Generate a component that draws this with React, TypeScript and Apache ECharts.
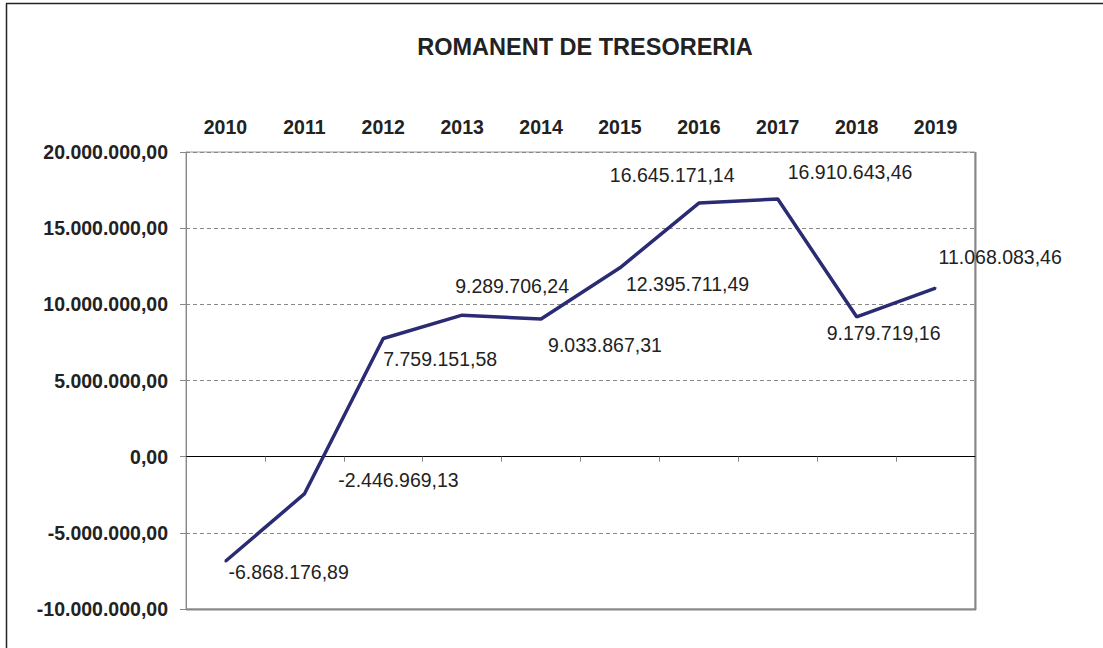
import React, { useEffect, useRef } from "react";
import * as echarts from "echarts";

const title = "ROMANENT DE TRESORERIA";
const years = ["2010", "2011", "2012", "2013", "2014", "2015", "2016", "2017", "2018", "2019"];
const values = [
  -6868176.89, -2446969.13, 7759151.58, 9289706.24, 9033867.31,
  12395711.49, 16645171.14, 16910643.46, 9179719.16, 11068083.46,
];
// label offsets (left edge, vertical centre) relative to each point
const labelDx = [3, 34, 0, -7, 7, 6, -89, 10, -30, 3];
const labelDy = [11, -14, 21, -29, 26, 16, -28, -27, 16, -31];

function fmt(v: number): string {
  const neg = v < 0;
  const a = Math.abs(v);
  const [ip, dp] = a.toFixed(2).split(".");
  const withDots = ip.replace(/\B(?=(\d{3})+(?!\d))/g, ".");
  return (neg ? "-" : "") + withDots + "," + dp;
}

export default function App() {
  const ref = useRef<HTMLDivElement>(null);
  useEffect(() => {
    if (!ref.current) return;
    const chart = echarts.init(ref.current, undefined, { renderer: "svg" });
    const font = "Liberation Sans, Arial, sans-serif";
    chart.setOption({
      animation: false,
      backgroundColor: "#ffffff",
      textStyle: { fontFamily: font },
      title: {
        text: title,
        left: 580,
        top: 30,
        textAlign: "center",
        textStyle: { fontSize: 23.5, fontWeight: "bold", color: "#222", fontFamily: font },
      },
      graphic: [
        { type: "line", shape: { x1: 6.5, y1: 3.5, x2: 6.5, y2: 660 }, style: { stroke: "#222", lineWidth: 1.5 } },
        { type: "line", shape: { x1: 6, y1: 3.5, x2: 1110, y2: 3.5 }, style: { stroke: "#222", lineWidth: 1.5 } },
        { type: "line", shape: { x1: 975.5, y1: 152, x2: 975.5, y2: 610 }, style: { stroke: "#888", lineWidth: 2 } },
        { type: "line", shape: { x1: 186, y1: 609.5, x2: 976, y2: 609.5 }, style: { stroke: "#888", lineWidth: 2 } },
      ],
      grid: {
        left: 186,
        right: 128,
        top: 152,
        bottom: 39,
        show: true,
        borderColor: "#999",
        borderWidth: 1,
      },
      xAxis: [
        {
          type: "category",
          data: years,
          position: "bottom",
          boundaryGap: true,
          axisLine: { onZero: true, lineStyle: { color: "#000", width: 1 } },
          axisTick: { show: true, length: 5, inside: false, lineStyle: { color: "#888" } },
          axisLabel: { show: false },
          splitLine: { show: false },
        },
        {
          type: "category",
          data: years,
          position: "top",
          boundaryGap: true,
          axisLine: { show: false },
          axisTick: { show: false },
          axisLabel: { margin: 15, fontSize: 19.5, fontWeight: "bold", color: "#222", fontFamily: font },
        },
      ],
      yAxis: {
        type: "value",
        min: -10000000,
        max: 20000000,
        interval: 5000000,
        axisLine: { show: true, lineStyle: { color: "#888" } },
        axisTick: { show: true, length: 6, lineStyle: { color: "#888" } },
        axisLabel: {
          margin: 18,
          fontSize: 19.5,
          fontWeight: "bold",
          color: "#222",
          fontFamily: font,
          formatter: (v: number) => fmt(v),
        },
        splitLine: { show: true, lineStyle: { color: "#888", type: [4, 3], width: 1 } },
      },
      series: [
        {
          type: "line",
          xAxisIndex: 0,
          data: values.map((v, i) => ({
            value: v,
            label: {
              position: [labelDx[i] + 1, labelDy[i] + 1],
            },
          })),
          symbol: "circle",
          symbolSize: 2,
          itemStyle: { color: "#2b2b74" },
          lineStyle: { color: "#2b2b74", width: 3.5 },
          label: {
            show: true,
            align: "left",
            verticalAlign: "middle",
            fontSize: 19.5,
            color: "#222",
            fontFamily: font,
            formatter: (p: any) => fmt(p.value),
          },
          z: 5,
        },
      ],
    });
    return () => chart.dispose();
  }, []);
  return <div ref={ref} style={{ width: 1103, height: 648, position: "absolute", left: 0, top: 0 }} />;
}
